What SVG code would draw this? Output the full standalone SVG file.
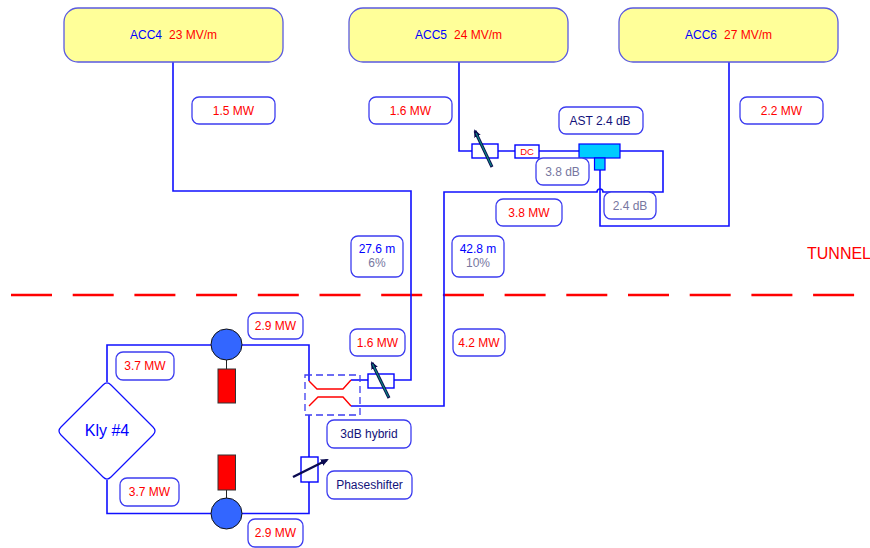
<svg xmlns="http://www.w3.org/2000/svg" width="870" height="548" viewBox="0 0 870 548">
<style>
text{font-family:"Liberation Sans",Arial,sans-serif;font-size:12px;text-anchor:middle}
.r{fill:#f00}.b{fill:#00f}.n{fill:#12127a}.g{fill:#77779f}
.lab{fill:#fff;stroke:#3c3cf0;stroke-width:1.3}
.acc{fill:#ffff99;stroke:#5a5ae0;stroke-width:1.3}
.w{fill:none;stroke:#1010ff;stroke-width:1.6}
.red{fill:none;stroke:#f00;stroke-width:1.4}
.box{fill:#fff;stroke:#00f;stroke-width:1.4}
.ast{fill:#00ccff;stroke:#00f;stroke-width:1.2}
.circ{fill:#3366ff;stroke:#111;stroke-width:1}
.kly{fill:#f00;stroke:#333;stroke-width:1}
.st{stroke:#222;stroke-width:1;fill:none}
</style>
<defs>
<marker id="ah" markerUnits="userSpaceOnUse" markerWidth="8" markerHeight="8" refX="6" refY="4" orient="auto"><path d="M0,0.500L8,4L0,7.500z" fill="#0a0a50"/></marker>
</defs>
<g id="tunnel-line"><path d="M11 295H855" stroke="#f00" stroke-width="2.4" stroke-dasharray="41 20.700" fill="none"/></g>
<text x="807" y="259" class="r" style="font-size:16px;text-anchor:start">TUNNEL</text>
<g id="connectors">
<path class="w" d="M173 62V191H411V380H394"/>
<path class="w" d="M368 380H351"/>
<path class="w" d="M351 406H444V192H597a3 3 0 0 1 6 0H663V151H620"/>
<path class="w" d="M600 170V226H729V62"/>
<path class="w" d="M459 62V151H472M498 151H515M539 151H579"/>
<path class="w" d="M107 382V345H211M242 345H309V381"/>
<path class="w" d="M107 480V513.500H211M242 513.500H309V415"/>
<path class="red" d="M309 381L317 389H343L351 380"/>
<path class="red" d="M309 406L318 397H343L351 406"/>
<path class="st" d="M226.500 360V369M226.500 490V498"/>
</g>
<g id="acc4"><rect class="acc" x="64" y="8" width="219" height="54" rx="14"/><text x="130" y="39" class="b" style="text-anchor:start">ACC4</text><text x="169" y="39" class="r" style="text-anchor:start">23 MV/m</text></g>
<g id="acc5"><rect class="acc" x="349" y="8" width="219" height="54" rx="14"/><text x="415" y="39" class="b" style="text-anchor:start">ACC5</text><text x="454" y="39" class="r" style="text-anchor:start">24 MV/m</text></g>
<g id="acc6"><rect class="acc" x="619" y="8" width="219" height="54" rx="14"/><text x="685" y="39" class="b" style="text-anchor:start">ACC6</text><text x="724" y="39" class="r" style="text-anchor:start">27 MV/m</text></g>
<g id="l-15"><rect class="lab" x="192" y="97" width="83" height="27" rx="7"/><text x="233.500" y="114.500" class="r">1.5 MW</text></g>
<g id="l-16a"><rect class="lab" x="369" y="97" width="83" height="27" rx="7"/><text x="410.500" y="114.500" class="r">1.6 MW</text></g>
<g id="l-22"><rect class="lab" x="740" y="97" width="83" height="27" rx="7"/><text x="781.500" y="114.500" class="r">2.2 MW</text></g>
<g id="l-ast"><rect class="lab" x="559" y="107" width="84" height="27" rx="7"/><text x="600" y="124.500" class="n">AST 2.4 dB</text></g>
<g id="phase5"><rect class="box" x="472" y="144" width="26" height="14"/><path d="M492 167L475 131" stroke="#0a0a50" stroke-width="3" marker-end="url(#ah)"/><path d="M491.500 166L476 133" stroke="#0a8a80" stroke-width="1.200"/></g>
<g id="dc"><rect class="box" x="515" y="145" width="24" height="13"/><text x="527" y="155" class="r" style="font-size:9.500px">DC</text></g>
<g id="ast"><rect class="ast" x="579" y="144" width="41" height="14"/><rect class="ast" x="594.500" y="158" width="10.500" height="12"/></g>
<g id="l-38db"><rect class="lab" x="536" y="158" width="53" height="27" rx="7"/><text x="562.500" y="175.500" class="g">3.8 dB</text></g>
<g id="l-24db"><rect class="lab" x="604" y="192" width="52" height="27" rx="7"/><text x="630" y="209.500" class="g">2.4 dB</text></g>
<g id="l-38"><rect class="lab" x="496" y="199" width="66" height="27" rx="7"/><text x="529" y="216.500" class="r">3.8 MW</text></g>
<g id="l-276"><rect class="lab" x="351" y="236" width="52" height="41" rx="7"/><text x="377" y="253" class="b">27.6 m</text><text x="377" y="267" class="g">6%</text></g>
<g id="l-428"><rect class="lab" x="452" y="236" width="52" height="41" rx="7"/><text x="478" y="253" class="b">42.8 m</text><text x="478" y="267" class="g">10%</text></g>
<g id="l-16b"><rect class="lab" x="350" y="329" width="55" height="27" rx="7"/><text x="377.500" y="346.500" class="r">1.6 MW</text></g>
<g id="l-42"><rect class="lab" x="453" y="329" width="52" height="27" rx="7"/><text x="479" y="346.500" class="r">4.2 MW</text></g>
<g id="l-29a"><rect class="lab" x="248" y="313" width="55" height="26" rx="7"/><text x="275.500" y="330" class="r">2.9 MW</text></g>
<g id="l-37a"><rect class="lab" x="116" y="352" width="58" height="28" rx="7"/><text x="145" y="370" class="r">3.7 MW</text></g>
<g id="l-37b"><rect class="lab" x="120" y="478" width="59" height="28" rx="7"/><text x="149.500" y="496" class="r">3.7 MW</text></g>
<g id="l-29b"><rect class="lab" x="248" y="519" width="55" height="28" rx="7"/><text x="275.500" y="537" class="r">2.9 MW</text></g>
<g id="l-hyb"><rect class="lab" x="327" y="420" width="84" height="28" rx="7"/><text x="369" y="438" class="n">3dB hybrid</text></g>
<g id="l-ps"><rect class="lab" x="327" y="471" width="85" height="28" rx="7"/><text x="369.500" y="489" class="n">Phaseshifter</text></g>
<g id="klystron"><path d="M103 385Q107 381 111 385L153 427Q157 431 153 435L111 477Q107 481 103 477L61 435Q57 431 61 427Z" fill="#fff" stroke="#1010ff" stroke-width="1.200"/><text x="107" y="436" class="b" style="font-size:16px">Kly #4</text></g>
<g id="coupler-top"><circle class="circ" cx="226.500" cy="344.500" r="15.500"/><rect class="kly" x="218" y="369" width="17.500" height="34"/></g>
<g id="coupler-bottom"><circle class="circ" cx="226.500" cy="513.500" r="15.500"/><rect class="kly" x="218" y="455" width="17.500" height="35"/></g>
<g id="hybrid"><rect x="305" y="375" width="55" height="40" fill="none" stroke="#3c3cf0" stroke-width="1.300" stroke-dasharray="7 4"/></g>
<g id="phase4"><rect class="box" x="368" y="374" width="26" height="14"/><path d="M389 398L372 363" stroke="#0a0a50" stroke-width="3" marker-end="url(#ah)"/><path d="M388.500 397L372.500 364" stroke="#0a8a80" stroke-width="1.200"/></g>
<g id="phaseshifter"><rect class="box" x="301" y="457" width="17" height="25"/><path d="M293 477L327 460" stroke="#0a0a50" stroke-width="2.400" marker-end="url(#ah)"/></g>
</svg>
